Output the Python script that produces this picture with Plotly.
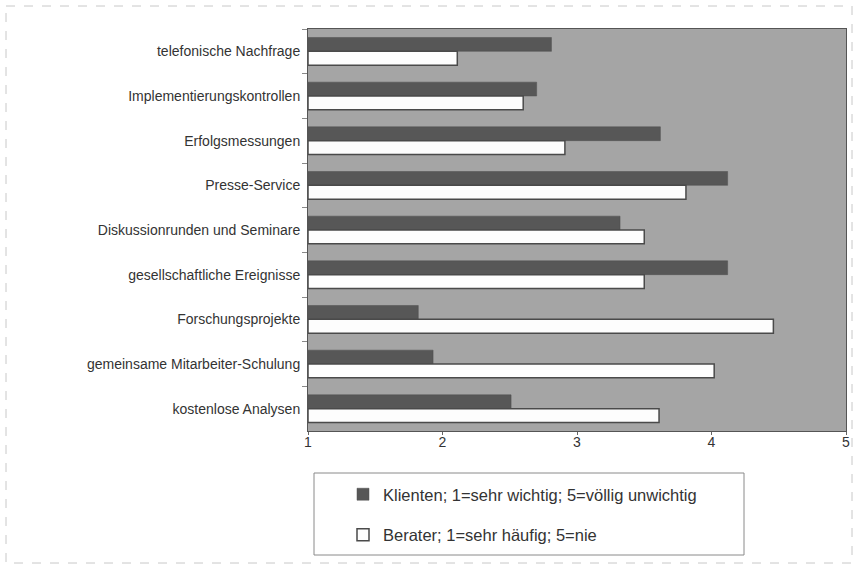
import plotly.graph_objects as go

categories = [
    "telefonische Nachfrage",
    "Implementierungskontrollen",
    "Erfolgsmessungen",
    "Presse-Service",
    "Diskussionrunden und Seminare",
    "gesellschaftliche Ereignisse",
    "Forschungsprojekte",
    "gemeinsame Mitarbeiter-Schulung",
    "kostenlose Analysen",
]
klienten = [2.81, 2.70, 3.62, 4.12, 3.32, 4.12, 1.82, 1.93, 2.51]
berater = [2.11, 2.60, 2.91, 3.81, 3.50, 3.50, 4.46, 4.02, 3.61]
x_ticks = [1, 2, 3, 4, 5]

name_k = "Klienten; 1=sehr wichtig; 5=völlig unwichtig"
name_b = "Berater; 1=sehr häufig; 5=nie"

W, H = 857, 567
L, R, T, B = 308, 11, 29, 136
pw, ph = W - L - R, H - T - B

def px_x(x):
    return (x - L) / pw

def px_y(y):
    return (H - B - y) / ph

fig = go.Figure()
fig.add_trace(go.Bar(
    y=categories, x=[v - 1 for v in klienten], base=1, orientation="h",
    name=name_k, legendgroup="k",
    marker=dict(color="#575757", line=dict(color="#505050", width=0.5)),
))
fig.add_trace(go.Bar(
    y=categories, x=[v - 1 for v in berater], base=1, orientation="h",
    name=name_b, legendgroup="b",
    marker=dict(color="#fdfdfd", line=dict(color="#4a4a4a", width=1.5)),
))

fig.update_layout(
    width=W, height=H, autosize=False,
    margin=dict(l=L, r=R, t=T, b=B, pad=0, autoexpand=False),
    paper_bgcolor="white",
    plot_bgcolor="#a5a5a5",
    barmode="group", bargap=0.38, bargroupgap=0,
    font=dict(family="Liberation Sans, Arial, sans-serif", size=14, color="#333333"),
    showlegend=True,
    legend=dict(
        x=px_x(343), y=px_y(477), xanchor="left", yanchor="top",
        bgcolor="rgba(0,0,0,0)", borderwidth=0,
        font=dict(size=16.5, color="#333333"),
        traceorder="grouped", tracegroupgap=16,
        itemwidth=30,
    ),
    xaxis=dict(
        range=[1, 5], tickvals=x_ticks, ticktext=[str(t) for t in x_ticks],
        showgrid=False, zeroline=False, automargin=False,
        ticks="outside", ticklen=3, tickcolor="#666666",
        showline=True, linecolor="#555555", linewidth=1, mirror=True,
        tickfont=dict(size=14, color="#333333"),
        ticklabelstandoff=-5,
    ),
    yaxis=dict(
        autorange="reversed", showgrid=False, automargin=False,
        ticks="outside", ticklen=5, tickcolor="#888888", tickson="boundaries",
        showline=True, linecolor="#555555", linewidth=1, mirror=True,
        tickfont=dict(size=14, color="#333333"),
        ticklabelstandoff=4,
    ),
    shapes=[
        dict(type="rect", xref="paper", yref="paper",
             x0=px_x(314), x1=px_x(744), y0=px_y(473), y1=px_y(555),
             line=dict(color="#8a8a8a", width=1), fillcolor="rgba(0,0,0,0)"),
        dict(type="rect", xref="paper", yref="paper",
             x0=px_x(6), x1=px_x(852), y0=px_y(6), y1=px_y(563),
             line=dict(color="#c8c8c8", width=1, dash="dash"), fillcolor="rgba(0,0,0,0)"),
    ],
)

fig.write_html("out.html", config={"displayModeBar": False},
               post_script="document.body.style.margin='0';")
